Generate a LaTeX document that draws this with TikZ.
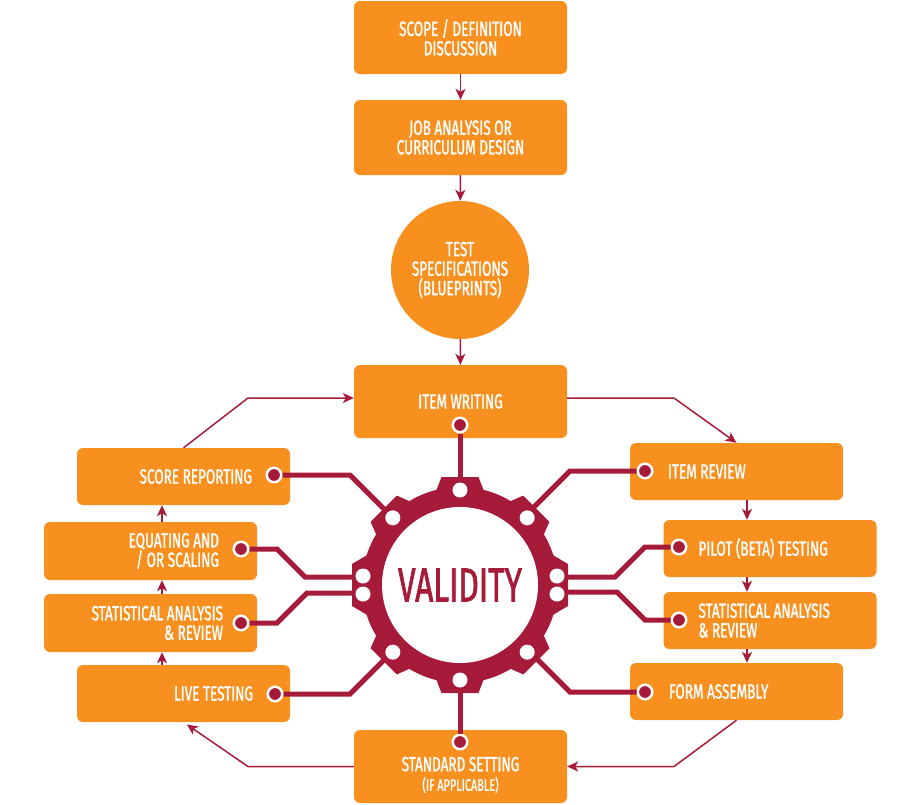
\documentclass[tikz,border=0pt]{standalone}
\usepackage{fontspec}
\newfontfamily\condfont[FakeStretch=0.66, FakeBold=1.3]{Fira Sans}
\usetikzlibrary{arrows.meta}

\definecolor{boxorange}{RGB}{247,144,30}
\definecolor{gearred}{RGB}{166,27,57}

\tikzset{
  stepfont/.style = {font=\condfont\fontsize{20.5}{19.5}\selectfont},
  box/.style = {fill=boxorange, rounded corners=6pt, text=white, align=center, inner sep=0pt, stepfont},
  midbox/.style = {box, minimum width=213pt, minimum height=73pt},
  sidebox/.style = {box, minimum width=213pt, minimum height=57pt},
  lbl/.style = {text=white, inner sep=0pt, stepfont},
  dot/.style = {circle, fill=gearred, draw=white, line width=2.5pt, minimum size=14.5pt, inner sep=0pt},
  trace/.style = {draw=gearred, line width=5pt},
  arr/.style = {draw=gearred, line width=1.5pt, -{Stealth[length=11pt, width=10pt, inset=3pt]}}
}

\begin{document}
\begin{tikzpicture}[x=1pt, y=-1pt]
\useasboundingbox (0,0) rectangle (920,804);

% centre column
\node[midbox] (scope) at (460.5,37.5) {SCOPE / DEFINITION\\DISCUSSION};
\node[midbox, minimum height=75pt] (job) at (460.5,137.5) {JOB ANALYSIS OR\\CURRICULUM DESIGN};
\node[box, circle, minimum size=138pt, rounded corners=0pt] (spec) at (460,270) {TEST\\SPECIFICATIONS\\(BLUEPRINTS)};
\node[midbox] (item) at (460.5,401.5) {ITEM WRITING};
\node[midbox] (std) at (460.5,766.5) {};
\node[lbl, align=center] (tStd) at (460.5,775) {STANDARD SETTING\\{\fontsize{16.5}{16.5}\selectfont (IF APPLICABLE)}};

% left column
\node[sidebox] (score) at (183.5,476.5) {};
\node[sidebox, minimum height=58pt] (equate) at (150.5,551) {};
\node[sidebox, minimum height=58pt] (statL) at (150.5,623) {};
\node[sidebox] (live) at (183.5,693.5) {};
\node[lbl, anchor=east, align=right] (tScore) at ([xshift=-38pt]score.east) {SCORE REPORTING};
\node[lbl, anchor=east, align=right] (tEquate) at ([xshift=-38pt]equate.east) {EQUATING AND\\/ OR SCALING};
\node[lbl, anchor=east, align=right] (tStatL) at ([xshift=-34pt]statL.east) {STATISTICAL ANALYSIS\\\& REVIEW};
\node[lbl, anchor=east, align=right] (tLive) at ([xshift=-37pt]live.east) {LIVE TESTING};

% right column
\node[sidebox] (review) at (736.5,471.5) {};
\node[sidebox] (pilot) at (770,548.5) {};
\node[sidebox] (statR) at (770,620.5) {};
\node[sidebox] (form) at (736.5,691.5) {};
\node[lbl, anchor=west, align=left] (tReview) at ([xshift=38pt]review.west) {ITEM REVIEW};
\node[lbl, anchor=west, align=left] (tPilot) at ([xshift=35pt]pilot.west) {PILOT (BETA) TESTING};
\node[lbl, anchor=west, align=left] (tStatR) at ([xshift=35pt]statR.west) {STATISTICAL ANALYSIS\\\& REVIEW};
\node[lbl, anchor=west, align=left] (tForm) at ([xshift=39pt]form.west) {FORM ASSEMBLY};

% flow arrows
\coordinate (lx) at (162,0);
\coordinate (rx) at (747,0);
\draw[arr] (scope) -- (job);
\draw[arr] (job) -- (spec);
\draw[arr] (spec) -- (item);
\draw[arr] (rx |- review.south) -- (rx |- pilot.north);
\draw[arr] (rx |- pilot.south) -- (rx |- statR.north);
\draw[arr] (rx |- statR.south) -- (rx |- form.north);
\draw[arr] (lx |- live.north) -- (lx |- statL.south);
\draw[arr] (lx |- statL.north) -- (lx |- equate.south);
\draw[arr] (lx |- equate.north) -- (lx |- score.south);
\draw[arr] (score.north) -- (248,398) -- (item.west |- 0,398);
\draw[arr] (item.east |- 0,398) -- (674,398) -- (review.north);
\draw[arr] (form.south) -- (674,766.5) -- (std.east);
\draw[arr, shorten >=4pt] (std.west) -- (248,766.5) -- (live.south);

% markers
\node[dot] (mItem) at (460,425) {};
\node[dot] (mStd) at (460,742) {};
\node[dot] (mScore) at (274,475) {};
\node[dot] (mEquate) at (241,549) {};
\node[dot] (mStatL) at (241,623) {};
\node[dot] (mLive) at (275,694) {};
\node[dot] (mReview) at (645,471) {};
\node[dot] (mPilot) at (679,547) {};
\node[dot] (mStatR) at (679,620) {};
\node[dot] (mForm) at (645,692) {};

% gear
\coordinate (G) at (460,585);
\draw[trace] (mItem) -- (G);
\draw[trace] (mStd) -- (G);
\draw[trace] (mScore) -- (350,475) -- (395,520);
\draw[trace] (mLive) -- (350,694) -- (395,649);
\draw[trace] (mReview) -- (570,471) -- (525,516);
\draw[trace] (mForm) -- (570,692) -- (525,647);
\draw[trace] (mEquate) -- (277,549) -- (305,577) -- (360,577);
\draw[trace] (mStatL) -- (277,623) -- (307,593) -- (360,593);
\draw[trace] (mPilot) -- (645,547) -- (615,577) -- (560,577);
\draw[trace] (mStatR) -- (645,620) -- (617,592) -- (560,592);

\fill[gearred] (G) circle (98pt);
\foreach \a in {45,90,135,225,270,315}
  \fill[gearred, shift={(G)}, rotate=\a] (86,-27) -- (108,-18.5) -- (108,18.5) -- (86,27) -- cycle;
\foreach \a in {0,180}
  \fill[gearred, shift={(G)}, rotate=\a] (86,-34) -- (108,-21) -- (108,21) -- (86,34) -- cycle;
\node[circle, fill=white, minimum size=156pt, inner sep=0pt, text=gearred,
      font=\condfont\fontsize{48}{48}\selectfont] (val) at (G) {VALIDITY};
\foreach \a in {45,90,135,225,270,315}
  \fill[white, shift={(G)}, rotate=\a] (95,0) circle (7.5pt);
\foreach \a in {0,180}
  \fill[white, shift={(G)}, rotate=\a] (97,-9) circle (7.5pt) (97,9) circle (7.5pt);
\end{tikzpicture}
\end{document}
